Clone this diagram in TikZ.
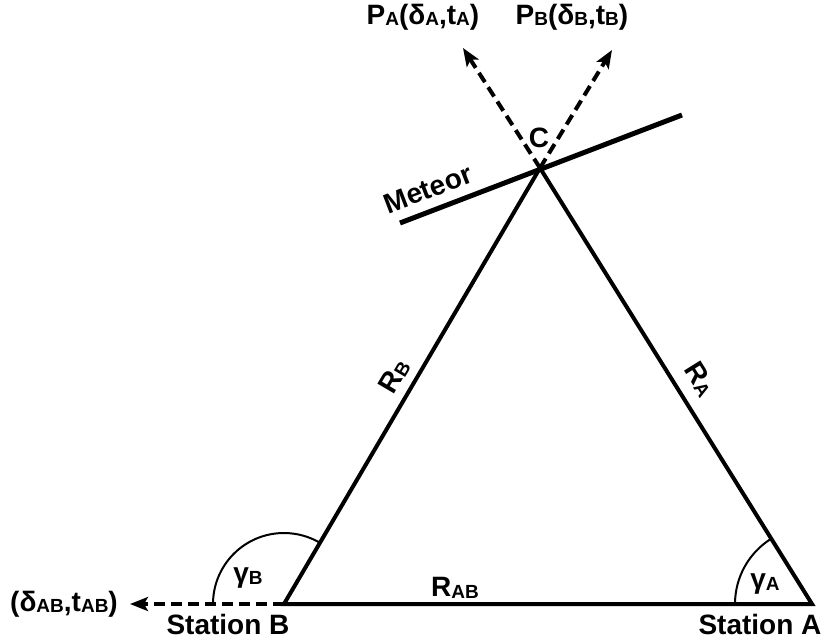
\documentclass[tikz,border=0pt]{standalone}
\usepackage{fontspec}
\setmainfont{Liberation Sans}
\usetikzlibrary{arrows.meta}
\newcommand{\sbs}[1]{\raisebox{-1.5pt}{\fontsize{19}{19}\selectfont #1}}
\tikzset{
  lbl/.style={font=\fontsize{28}{30}\selectfont\bfseries, inner sep=0pt},
  solidline/.style={line width=4pt},
  dashline/.style={line width=4pt, dash pattern=on 11pt off 6pt, -{Stealth[length=18pt,width=14pt,inset=4pt]}},
  anglearc/.style={line width=2pt},
}
\begin{document}
\begin{tikzpicture}[x=1pt,y=-1pt]
\useasboundingbox (0,0) rectangle (822,641);
\coordinate (B) at (284,604);
\coordinate (A) at (812,604);
\coordinate (C) at (540,168);
\coordinate (M1) at (400,223);
\coordinate (M2) at (682,115);
\coordinate (PAt) at (463,48);
\coordinate (PBt) at (612,50);
\coordinate (ABt) at (130,604);
% triangle
\draw[solidline, line join=miter] (C) -- (A) -- (B) -- cycle;
% meteor
\draw[line width=5pt] (M1) -- (M2);
% dashed arrows
\draw[dashline] (C) -- (PAt);
\draw[dashline] (C) -- (PBt);
\draw[dashline] (B) -- (ABt);
% angle arcs (y axis points down, so angles are mirrored)
\draw[anglearc] ([shift={(180:71)}]B) arc[start angle=180, end angle=300.5, radius=71];
\draw[anglearc] ([shift={(180:77)}]A) arc[start angle=180, end angle=238, radius=77];
% labels
\node[lbl] (lC) at (539,138) {C};
\node[lbl, rotate=21] (lMet) at (428,189) {Meteor};
\node[lbl] (lPA) at (423,17) {P\sbs{A}(δ\sbs{A},t\sbs{A})};
\node[lbl] (lPB) at (572,17) {P\sbs{B}(δ\sbs{B},t\sbs{B})};
\node[lbl] (lAB) at (64,604) {(δ\sbs{AB},t\sbs{AB})};
\node[lbl, rotate=59.5] (lRB) at (394,376) {R\sbs{B}};
\node[lbl, rotate=-58] (lRA) at (700,379) {R\sbs{A}};
\node[lbl] (lRAB) at (455,588) {R\sbs{AB}};
\node[lbl] (lgB) at (248,578) {γ\sbs{B}};
\node[lbl] (lgA) at (765,584) {γ\sbs{A}};
\node[lbl] (lSB) at (228,624) {Station B};
\node[lbl] (lSA) at (760,624) {Station A};
\end{tikzpicture}
\end{document}
